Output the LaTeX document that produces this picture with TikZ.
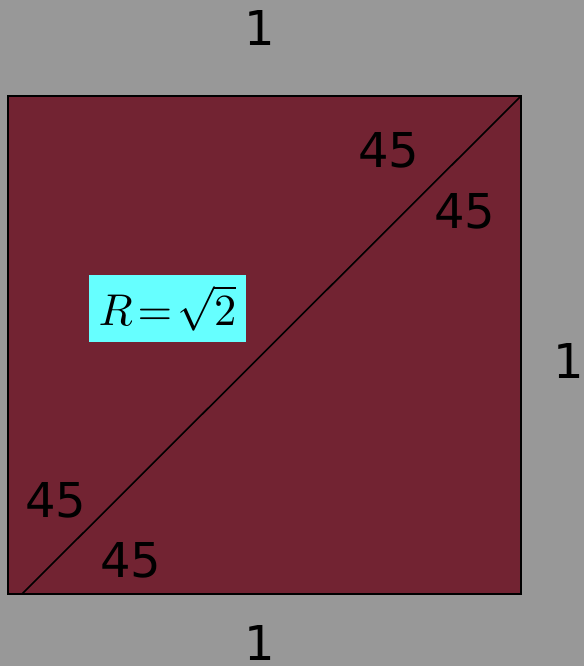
\documentclass[tikz,border=0pt]{standalone}
\usepackage{fontspec}
\usepackage{graphicx}
\setmainfont{DejaVu Sans}
\definecolor{bggray}{RGB}{152,152,152}
\definecolor{maroon}{RGB}{114,35,50}
\definecolor{cyanbox}{RGB}{102,255,255}
\begin{document}
\begin{tikzpicture}[x=1pt,y=-1pt,
  lbl/.style={font=\fontsize{48}{52}\selectfont, text=black, inner sep=0pt, anchor=base},
  side/.style={font=\fontsize{48}{52}\selectfont, text=black, inner sep=0pt, anchor=base}]
\fill[bggray] (0,0) rectangle (584,666);
\useasboundingbox (0,0) rectangle (584,666);
\coordinate (tl) at (8,96);
\coordinate (br) at (521,594);
\coordinate (tr) at (521,96);
\coordinate (ds) at (22,594);
\draw[fill=maroon, line width=1.5pt] (tl) rectangle (br);
\draw[line width=1.6pt] (ds) -- (tr);
\node[side] (top) at (260,46) {1};
\node[side] (right) at (569,378) {1};
\node[side] (bottom) at (260,660) {1};
\node[lbl] (a1) at (389,167) {45};
\node[lbl] (a2) at (465,228) {45};
\node[lbl] (a3) at (56,517) {45};
\node[lbl] (a4) at (131,577) {45};
\node[fill=cyanbox, minimum width=157pt, minimum height=67pt, inner sep=0pt] (r) at (167.5,308.5) {\scalebox{4.45}{$R\!=\!\sqrt{2}$}};
\end{tikzpicture}
\end{document}
